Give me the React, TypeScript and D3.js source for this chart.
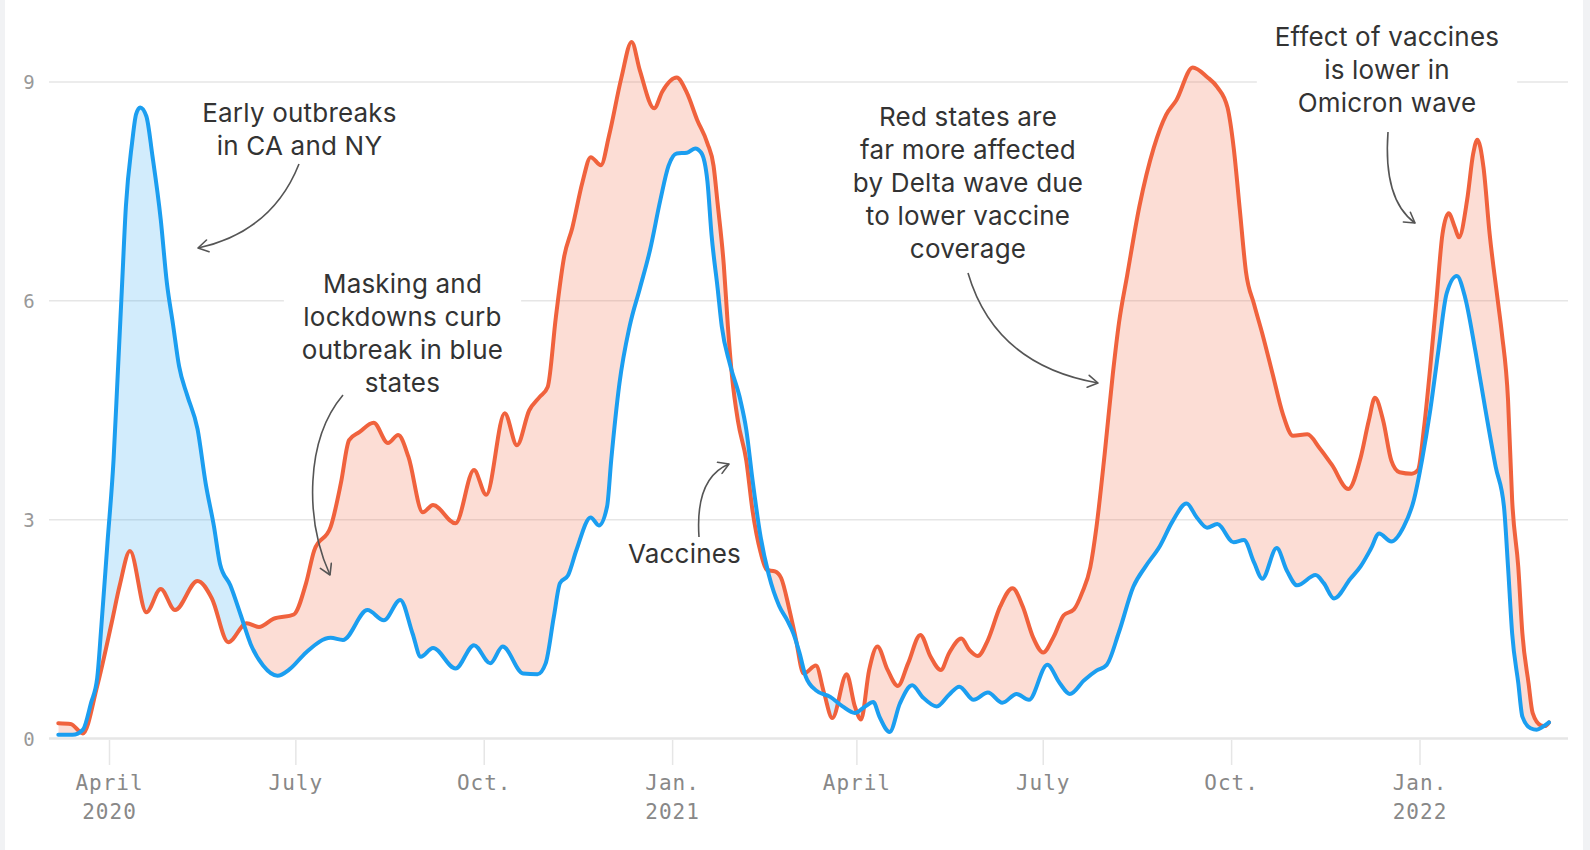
import { useEffect, useRef } from "react";
import * as d3 from "d3";

// weekly-ish readings of the two series (cases per 100k, 7-day avg)
const redDates = [
  "2020-03-07", "2020-03-13", "2020-03-19", "2020-03-26", "2020-04-02", "2020-04-06", "2020-04-11",
  "2020-04-19", "2020-04-26", "2020-05-03", "2020-05-14", "2020-05-21", "2020-05-29", "2020-06-07",
  "2020-06-13", "2020-06-20", "2020-06-30", "2020-07-06", "2020-07-10", "2020-07-18", "2020-07-23",
  "2020-07-27", "2020-08-01", "2020-08-08", "2020-08-15", "2020-08-20", "2020-08-25", "2020-09-01",
  "2020-09-06", "2020-09-17", "2020-09-26", "2020-10-02", "2020-10-11", "2020-10-17", "2020-10-23",
  "2020-10-28", "2020-11-01", "2020-11-05", "2020-11-09", "2020-11-13", "2020-11-18", "2020-11-22",
  "2020-11-27", "2020-12-01", "2020-12-07", "2020-12-12", "2020-12-16", "2020-12-23", "2020-12-27",
  "2021-01-03", "2021-01-08", "2021-01-13", "2021-01-18", "2021-01-21", "2021-01-23", "2021-01-26",
  "2021-01-28", "2021-01-30", "2021-02-02", "2021-02-06", "2021-02-09", "2021-02-13", "2021-02-16",
  "2021-02-20", "2021-02-23", "2021-02-27", "2021-03-02", "2021-03-06", "2021-03-12", "2021-03-16",
  "2021-03-20", "2021-03-27", "2021-03-31", "2021-04-03", "2021-04-07", "2021-04-11", "2021-04-16",
  "2021-04-21", "2021-04-26", "2021-05-02", "2021-05-07", "2021-05-12", "2021-05-16", "2021-05-22",
  "2021-05-26", "2021-05-30", "2021-06-04", "2021-06-10", "2021-06-16", "2021-06-21", "2021-06-26",
  "2021-07-01", "2021-07-06", "2021-07-11", "2021-07-16", "2021-07-20", "2021-07-24", "2021-07-27",
  "2021-07-31", "2021-08-04", "2021-08-07", "2021-08-11", "2021-08-17", "2021-08-24", "2021-08-30",
  "2021-09-04", "2021-09-12", "2021-09-19", "2021-09-24", "2021-09-29", "2021-10-02", "2021-10-05",
  "2021-10-08", "2021-10-12", "2021-10-16", "2021-10-21", "2021-10-26", "2021-10-31", "2021-11-07",
  "2021-11-13", "2021-11-19", "2021-11-27", "2021-12-03", "2021-12-07", "2021-12-10", "2021-12-14",
  "2021-12-18", "2021-12-22", "2021-12-28", "2021-12-31", "2022-01-03", "2022-01-06", "2022-01-09",
  "2022-01-12", "2022-01-15", "2022-01-18", "2022-01-20", "2022-01-24", "2022-01-27", "2022-01-29",
  "2022-02-01", "2022-02-04", "2022-02-08", "2022-02-10", "2022-02-13", "2022-02-15", "2022-02-18",
  "2022-02-20", "2022-02-23", "2022-02-25", "2022-03-01", "2022-03-03", "2022-03-05",
];
const redValues = [
  0.21, 0.2, 0.07, 0.72, 1.58, 2.1, 2.57,
  1.73, 2.05, 1.76, 2.16, 1.92, 1.32, 1.58,
  1.53, 1.64, 1.7, 2.13, 2.58, 2.9, 3.5,
  4.09, 4.2, 4.33, 4.05, 4.16, 3.86, 3.1,
  3.2, 2.95, 3.68, 3.34, 4.46, 4.02, 4.5,
  4.68, 4.82, 5.78, 6.6, 7.0, 7.63, 7.97,
  7.86, 8.27, 9.06, 9.55, 9.16, 8.64, 8.87,
  9.06, 8.85, 8.48, 8.16, 7.85, 7.33, 6.49,
  5.65, 4.97, 4.34, 3.81, 3.13, 2.55, 2.31,
  2.29, 2.2, 1.77, 1.39, 0.89, 1.0, 0.62,
  0.28, 0.88, 0.44, 0.26, 0.94, 1.26, 0.94,
  0.72, 1.03, 1.42, 1.12, 0.94, 1.17, 1.37,
  1.21, 1.13, 1.35, 1.81, 2.06, 1.81, 1.39,
  1.18, 1.39, 1.69, 1.77, 2.0, 2.35, 2.9,
  3.9, 5.0, 5.7, 6.35, 7.3, 8.1, 8.55,
  8.75, 9.2, 9.07, 8.93, 8.65, 8.1, 7.25,
  6.4, 5.95, 5.55, 5.0, 4.45, 4.15, 4.17,
  3.98, 3.75, 3.42, 3.85, 4.36, 4.67, 4.36,
  3.81, 3.65, 3.63, 3.68, 4.27, 5.09, 6.0,
  6.92, 7.2, 7.01, 6.87, 7.38, 8.02, 8.21,
  7.83, 6.92, 6.0, 5.55, 4.64, 3.27, 2.35,
  1.44, 0.76, 0.35, 0.18, 0.17, 0.22,
];

const blueDates = [
  "2020-03-07", "2020-03-14", "2020-03-19", "2020-03-23", "2020-03-26", "2020-03-28", "2020-03-31",
  "2020-04-03", "2020-04-05", "2020-04-07", "2020-04-09", "2020-04-12", "2020-04-14", "2020-04-16",
  "2020-04-19", "2020-04-22", "2020-04-26", "2020-04-29", "2020-05-02", "2020-05-05", "2020-05-09",
  "2020-05-14", "2020-05-18", "2020-05-22", "2020-05-25", "2020-05-30", "2020-06-04", "2020-06-09",
  "2020-06-15", "2020-06-22", "2020-06-28", "2020-07-06", "2020-07-18", "2020-07-24", "2020-08-05",
  "2020-08-13", "2020-08-21", "2020-08-27", "2020-08-31", "2020-09-06", "2020-09-17", "2020-09-26",
  "2020-10-04", "2020-10-10", "2020-10-20", "2020-10-27", "2020-10-31", "2020-11-04", "2020-11-07",
  "2020-11-11", "2020-11-15", "2020-11-22", "2020-11-26", "2020-11-30", "2020-12-02", "2020-12-06",
  "2020-12-11", "2020-12-16", "2020-12-21", "2020-12-26", "2020-12-30", "2021-01-03", "2021-01-08",
  "2021-01-12", "2021-01-15", "2021-01-18", "2021-01-20", "2021-01-23", "2021-01-25", "2021-01-29",
  "2021-02-03", "2021-02-06", "2021-02-09", "2021-02-13", "2021-02-17", "2021-02-22", "2021-02-26",
  "2021-03-01", "2021-03-04", "2021-03-07", "2021-03-12", "2021-03-19", "2021-03-25", "2021-03-31",
  "2021-04-05", "2021-04-09", "2021-04-12", "2021-04-17", "2021-04-22", "2021-04-28", "2021-05-03",
  "2021-05-10", "2021-05-16", "2021-05-21", "2021-05-28", "2021-06-04", "2021-06-11", "2021-06-18",
  "2021-06-24", "2021-07-03", "2021-07-09", "2021-07-14", "2021-07-21", "2021-07-27", "2021-08-01",
  "2021-08-07", "2021-08-14", "2021-08-20", "2021-08-27", "2021-09-02", "2021-09-09", "2021-09-14",
  "2021-09-19", "2021-09-24", "2021-10-02", "2021-10-07", "2021-10-12", "2021-10-16", "2021-10-23",
  "2021-10-28", "2021-11-02", "2021-11-11", "2021-11-15", "2021-11-20", "2021-11-28", "2021-12-03",
  "2021-12-08", "2021-12-12", "2021-12-18", "2021-12-24", "2021-12-29", "2022-01-02", "2022-01-06",
  "2022-01-10", "2022-01-14", "2022-01-19", "2022-01-23", "2022-01-28", "2022-02-02", "2022-02-07",
  "2022-02-11", "2022-02-13", "2022-02-15", "2022-02-18", "2022-02-20", "2022-02-24", "2022-02-27",
  "2022-03-02", "2022-03-05",
];
const blueValues = [
  0.05, 0.05, 0.12, 0.49, 0.83, 1.53, 2.68,
  3.83, 4.98, 6.14, 7.29, 8.16, 8.56, 8.65,
  8.53, 7.98, 7.12, 6.25, 5.68, 5.1, 4.7,
  4.24, 3.49, 2.91, 2.39, 2.1, 1.7, 1.29,
  1.0, 0.86, 0.95, 1.18, 1.38, 1.35, 1.76,
  1.62, 1.9, 1.44, 1.12, 1.24, 0.96, 1.28,
  1.03, 1.26, 0.89, 0.88, 1.03, 1.67, 2.13,
  2.24, 2.58, 3.03, 2.92, 3.18, 3.81, 4.86,
  5.65, 6.17, 6.7, 7.38, 7.85, 8.02, 8.03,
  8.09, 8.03, 7.64, 6.91, 6.17, 5.65, 5.13,
  4.65, 4.23, 3.55, 2.76, 2.24, 1.82, 1.62,
  1.44, 1.17, 0.85, 0.66, 0.57, 0.44, 0.35,
  0.44, 0.5, 0.3, 0.09, 0.48, 0.73, 0.57,
  0.44, 0.6, 0.71, 0.53, 0.63, 0.49, 0.61,
  0.53, 1.01, 0.76, 0.61, 0.8, 0.93, 1.01,
  1.46, 2.08, 2.36, 2.64, 2.97, 3.22, 3.03,
  2.89, 2.94, 2.69, 2.72, 2.41, 2.19, 2.61,
  2.3, 2.1, 2.24, 2.13, 1.92, 2.19, 2.36,
  2.6, 2.81, 2.7, 2.9, 3.27, 3.82, 4.5,
  5.32, 6.1, 6.34, 6.05, 5.32, 4.5, 3.72,
  3.18, 2.35, 1.44, 0.76, 0.3, 0.14, 0.12,
  0.16, 0.22,
];

const yTicks = [0, 3, 6, 9];
const xTickDates = [
  "2020-04-01", "2020-07-01", "2020-10-01", "2021-01-01",
  "2021-04-01", "2021-07-01", "2021-10-01", "2022-01-01",
];
const xTickMonths = ["April", "July", "Oct.", "Jan.", "April", "July", "Oct.", "Jan."];
const xTickYears = ["2020", "", "", "2021", "", "", "", "2022"];

type Note = { lines: string[]; cx: number; y: number; arrow: string; box: boolean };

const notes: Note[] = [
  { lines: ["Early outbreaks", "in CA and NY"], cx: 299.5, y: 122, arrow: "M299,164 Q272,232 198,248", box: false },
  {
    lines: ["Masking and", "lockdowns curb", "outbreak in blue", "states"],
    cx: 402.5, y: 293, arrow: "M343,395 C305,440 305,520 330,575", box: true,
  },
  { lines: ["Vaccines"], cx: 684.5, y: 563, arrow: "M699,537 Q695,478 729,464", box: false },
  {
    lines: ["Red states are", "far more affected", "by Delta wave due", "to lower vaccine", "coverage"],
    cx: 968, y: 126, arrow: "M968,273 Q995,365 1098,383", box: false,
  },
  {
    lines: ["Effect of vaccines", "is lower in", "Omicron wave"],
    cx: 1387, y: 46, arrow: "M1388,132 Q1383,200 1415,223", box: true,
  },
];

const W = 1590;
const H = 850;
const parse = d3.timeParse("%Y-%m-%d");

const App = () => {
  const svgRef = useRef<SVGSVGElement | null>(null);

  useEffect(() => {
    if (!svgRef.current) return;
    const svg = d3.select(svgRef.current);
    svg.selectAll("*").remove();

    const x = d3
      .scaleTime()
      .domain([parse("2020-04-01")!, parse("2022-01-01")!])
      .range([109.5, 1420]);
    const y = d3.scaleLinear().domain([0, 9]).range([738.5, 82]);

    const red = redDates.map((d, i) => [parse(d)!, redValues[i]] as [Date, number]);
    const blue = blueDates.map((d, i) => [parse(d)!, blueValues[i]] as [Date, number]);

    // page frame
    svg.append("rect").attr("width", W).attr("height", H).attr("fill", "#f1f2f4");
    svg.append("rect").attr("x", 5).attr("width", 1578).attr("height", H).attr("fill", "#fff");

    // gridlines
    svg
      .append("g")
      .selectAll("line")
      .data(yTicks)
      .join("line")
      .attr("x1", 49)
      .attr("x2", 1568)
      .attr("y1", (d) => y(d))
      .attr("y2", (d) => y(d))
      .attr("stroke", "#e6e6e6")
      .attr("stroke-width", (d) => (d === 0 ? 2.5 : 1.5));

    svg
      .append("g")
      .selectAll("text")
      .data(yTicks)
      .join("text")
      .attr("x", 29)
      .attr("y", (d) => y(d) + 7)
      .attr("text-anchor", "middle")
      .attr("font-family", "'DejaVu Sans Mono', monospace")
      .attr("font-size", 19)
      .attr("fill", "#999")
      .text((d) => d);

    // x axis ticks + labels
    const xt = svg.append("g");
    xTickDates.forEach((d, i) => {
      const px = x(parse(d)!);
      xt.append("line")
        .attr("x1", px)
        .attr("x2", px)
        .attr("y1", 740)
        .attr("y2", 765)
        .attr("stroke", "#e6e6e6")
        .attr("stroke-width", 1.5);
      const t = xt
        .append("text")
        .attr("text-anchor", "middle")
        .attr("font-family", "'DejaVu Sans Mono', monospace")
        .attr("font-size", 21)
        .attr("letter-spacing", 1)
        .attr("fill", "#888");
      t.append("tspan").attr("x", px).attr("y", 790).text(xTickMonths[i]);
      if (xTickYears[i]) t.append("tspan").attr("x", px).attr("y", 819).text(xTickYears[i]);
    });

    const boxLayer = svg.append("g");

    // fill between the two series
    const defs = svg.append("defs");
    const below = d3
      .area<[Date, number]>()
      .curve(d3.curveMonotoneX)
      .x((d) => x(d[0]))
      .y0(H)
      .y1((d) => y(d[1]));
    const above = d3
      .area<[Date, number]>()
      .curve(d3.curveMonotoneX)
      .x((d) => x(d[0]))
      .y0(0)
      .y1((d) => y(d[1]));
    defs.append("clipPath").attr("id", "clip-red").append("path").attr("d", below(red)!);
    defs.append("clipPath").attr("id", "clip-blue").append("path").attr("d", below(blue)!);

    svg
      .append("path")
      .attr("d", above(blue)!)
      .attr("clip-path", "url(#clip-red)")
      .attr("fill", "#f26440")
      .attr("fill-opacity", 0.22);
    svg
      .append("path")
      .attr("d", above(red)!)
      .attr("clip-path", "url(#clip-blue)")
      .attr("fill", "#1e9ff2")
      .attr("fill-opacity", 0.2);

    const line = d3
      .line<[Date, number]>()
      .curve(d3.curveMonotoneX)
      .x((d) => x(d[0]))
      .y((d) => y(d[1]));

    svg
      .append("path")
      .datum(red)
      .attr("fill", "none")
      .attr("stroke", "#f0623d")
      .attr("stroke-width", 4)
      .attr("stroke-linejoin", "round")
      .attr("stroke-linecap", "round")
      .attr("d", line);
    svg
      .append("path")
      .datum(blue)
      .attr("fill", "none")
      .attr("stroke", "#1b9ef0")
      .attr("stroke-width", 4)
      .attr("stroke-linejoin", "round")
      .attr("stroke-linecap", "round")
      .attr("d", line);

    // annotations
    defs
      .append("marker")
      .attr("id", "head")
      .attr("viewBox", "0 0 14 14")
      .attr("refX", 12)
      .attr("refY", 7)
      .attr("markerWidth", 14)
      .attr("markerHeight", 14)
      .attr("markerUnits", "userSpaceOnUse")
      .attr("orient", "auto")
      .append("path")
      .attr("d", "M2,1 L12,7 L2,13")
      .attr("fill", "none")
      .attr("stroke", "#555")
      .attr("stroke-width", 1.6)
      .attr("stroke-linecap", "round")
      .attr("stroke-linejoin", "round");

    notes.forEach((n) => {
      const t = svg
        .append("text")
        .attr("text-anchor", "middle")
        .attr("font-family", "Inter, 'Open Sans', sans-serif")
        .attr("font-size", 26)
        .attr("letter-spacing", 0.2)
        .attr("fill", "#333");
      n.lines.forEach((l, i) => {
        t.append("tspan").attr("x", n.cx).attr("y", n.y + i * 33).text(l);
      });
      if (n.box) {
        const b = (t.node() as SVGTextElement).getBBox();
        boxLayer
          .append("rect")
          .attr("x", b.x - 18)
          .attr("y", b.y - 6)
          .attr("width", b.width + 36)
          .attr("height", b.height + 10)
          .attr("fill", "#fff");
      }
      svg
        .append("path")
        .attr("d", n.arrow)
        .attr("fill", "none")
        .attr("stroke", "#555")
        .attr("stroke-width", 1.6)
        .attr("marker-end", "url(#head)");
    });
  }, []);

  return (
    <div style={{ position: "fixed", left: 0, top: 0 }}>
      <svg ref={svgRef} width={W} height={H} style={{ display: "block" }} />
    </div>
  );
};

export default App;
